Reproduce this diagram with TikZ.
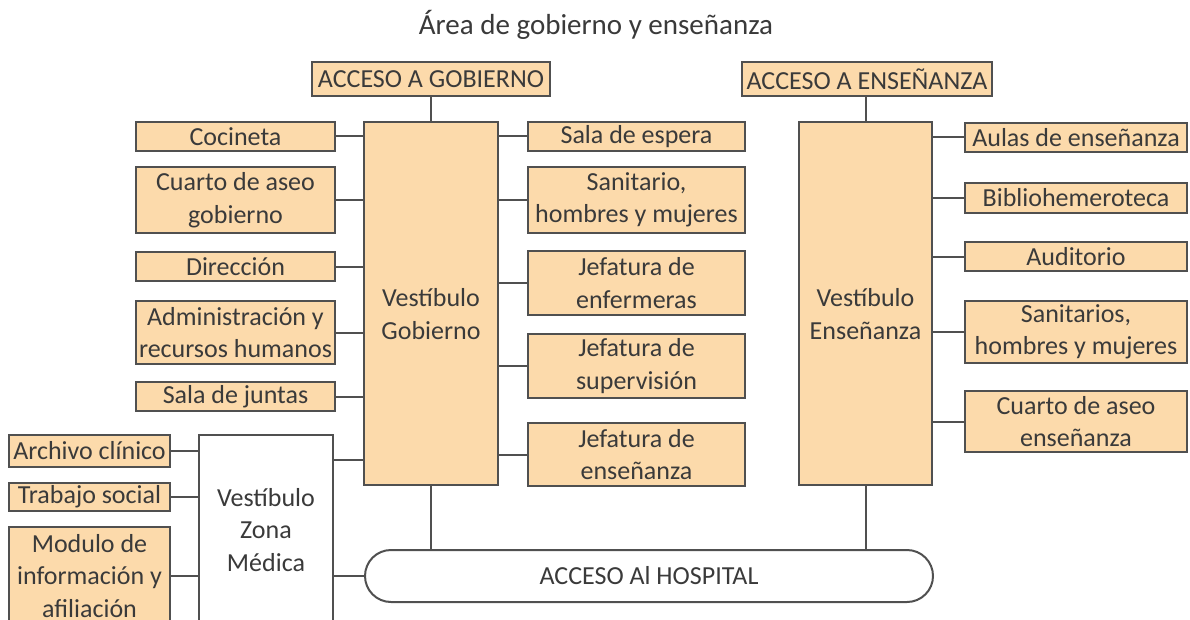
\documentclass[tikz,border=0pt]{standalone}
\usepackage{fontspec}
\setmainfont{Carlito}
\definecolor{fillc}{HTML}{FCDAAB}
\definecolor{bordc}{HTML}{505050}
\definecolor{textc}{HTML}{3A3A3A}
\newcommand{\boxfont}{\fontsize{26}{32.5}\selectfont}
\tikzset{
  roombox/.style={draw=bordc, fill=fillc, line width=2pt, inner sep=0pt, align=center, font=\boxfont, text=textc},
  whitebox/.style={roombox, fill=white},
  txt/.style={inner sep=0pt, align=center, font=\boxfont, text=textc},
  conn/.style={draw=bordc, line width=2pt}
}
\begin{document}
\begin{tikzpicture}[x=1pt,y=-1pt]
\clip (0,0) rectangle (1190,620);
\fill[white] (0,0) rectangle (1190,620);
% title
\node[txt, anchor=base, font=\fontsize{29}{35}\selectfont] (title) at (596,35) {Área de gobierno y enseñanza};
% access boxes
\node[roombox, minimum width=238pt, minimum height=34pt] (ag) at (431,79) {ACCESO A GOBIERNO};
\node[roombox, minimum width=250pt, minimum height=34pt] (ae) at (867,79) {ACCESO A ENSEÑANZA};
% vestibules
\node[roombox, minimum width=134pt, minimum height=363pt] (vg) at (431,303.5) {};
\node[txt] (vgt) at (431,314) {Vestíbulo\\Gobierno};
\node[roombox, minimum width=133pt, minimum height=363pt] (ve) at (865.5,303.5) {};
\node[txt] (vet) at (865.5,314) {Vestíbulo\\Enseñanza};
% left column
\node[roombox, minimum width=199pt, minimum height=29pt] (coc) at (235.5,136.5) {Cocineta};
\node[roombox, minimum width=199pt, minimum height=66pt] (cag) at (235.5,200) {Cuarto de aseo\\gobierno};
\node[roombox, minimum width=199pt, minimum height=29pt] (dir) at (235.5,266.5) {Dirección};
\node[roombox, minimum width=199pt, minimum height=63pt] (adm) at (235.5,332.5) {Administración y\\recursos humanos};
\node[roombox, minimum width=199pt, minimum height=29pt] (sdj) at (235.5,396.5) {Sala de juntas};
% right of gobierno
\node[roombox, minimum width=217pt, minimum height=29pt] (sde) at (636.5,136.5) {Sala de espera};
\node[roombox, minimum width=217pt, minimum height=66pt] (san) at (636.5,200) {Sanitario,\\hombres y mujeres};
\node[roombox, minimum width=217pt, minimum height=64pt] (jenf) at (636.5,283) {Jefatura de\\enfermeras};
\node[roombox, minimum width=217pt, minimum height=64pt] (jsup) at (636.5,366) {Jefatura de\\supervisión};
\node[roombox, minimum width=217pt, minimum height=63pt] (jens) at (636.5,454.5) {Jefatura de\\enseñanza};
% right of enseñanza
\node[roombox, minimum width=222pt, minimum height=29pt] (aul) at (1076,137.5) {Aulas de enseñanza};
\node[roombox, minimum width=222pt, minimum height=30pt] (bib) at (1076,198) {Bibliohemeroteca};
\node[roombox, minimum width=222pt, minimum height=29pt] (aud) at (1076,256.5) {Auditorio};
\node[roombox, minimum width=222pt, minimum height=62pt] (sns) at (1076,332) {Sanitarios,\\hombres y mujeres};
\node[roombox, minimum width=222pt, minimum height=61pt] (cae) at (1076,421.5) {Cuarto de aseo\\enseñanza};
% zona medica
\node[whitebox, minimum width=134pt, minimum height=190pt] (zm) at (266,530) {Vestíbulo\\Zona\\Médica};
\node[roombox, minimum width=161pt, minimum height=32pt] (arc) at (89.5,451) {Archivo clínico};
\node[roombox, minimum width=161pt, minimum height=28pt] (trs) at (89.5,497) {Trabajo social};
\node[roombox, minimum width=161pt, minimum height=98pt] (mod) at (89.5,576) {Modulo de\\información y\\afiliación};
% hospital access
\node[whitebox, rounded corners=26pt, minimum width=568pt, minimum height=52pt] (hosp) at (649,576) {ACCESO Al HOSPITAL};
\coordinate (zmg) at (0,460);
% connectors
\draw[conn] (ag.south) -- (vg.north);
\draw[conn] (ve.north) -- (ve.north |- ae.south);
\foreach \n in {coc,cag,dir,adm,sdj}{\draw[conn] (\n.east) -- (\n.east -| vg.west);}
\foreach \n in {sde,san,jenf,jsup,jens}{\draw[conn] (\n.west) -- (\n.west -| vg.east);}
\foreach \n in {aul,bib,aud,sns,cae}{\draw[conn] (\n.west) -- (\n.west -| ve.east);}
\foreach \n in {arc,trs,mod}{\draw[conn] (\n.east) -- (\n.east -| zm.west);}
\draw[conn] (zm.east |- zmg) -- (vg.west |- zmg);
\draw[conn] (zm.east |- hosp.west) -- (hosp.west);
\draw[conn] (vg.south) -- (vg.south |- hosp.north);
\draw[conn] (ve.south) -- (ve.south |- hosp.north);
\end{tikzpicture}
\end{document}
